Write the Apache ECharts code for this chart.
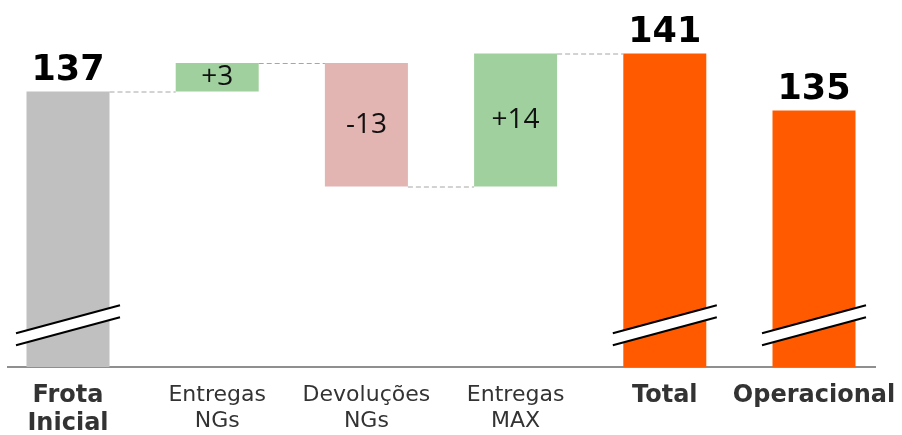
<!DOCTYPE html>
<html>
<head>
<meta charset="utf-8">
<script src="https://cdn.jsdelivr.net/npm/echarts@6/dist/echarts.min.js"></script>
<style>html,body{margin:0;padding:0;background:#fff}#c{width:902px;height:435px}</style>
</head>
<body>
<div id="c"></div>
<script>
const categories = ['Frota\nInicial', 'Entregas\nNGs', 'Devoluções\nNGs', 'Entregas\nMAX', 'Total', 'Operacional'];
const kinds = ['total', 'delta', 'delta', 'delta', 'total', 'total'];
const values = [137, 3, -13, 14, 141, 135];
const boldCategory = [true, false, false, false, true, true];
const barColors = ['#c0c0c0', '#9fd09e', '#e2b4b2', '#9fd09e', '#ff5a00', '#ff5a00'];
const brokenBars = [0, 4, 5];
const breakValue = 112.4;

const AXIS_MIN = 108, AXIS_MAX = 146, BAR_W = 83;

// build waterfall pieces
let run = 0;
const baseData = [], visData = [], labelTexts = [], levels = [];
values.forEach((v, i) => {
  if (kinds[i] === 'total') {
    baseData.push('-');
    visData.push(v);
    labelTexts.push(String(v));
    run = v;
  } else {
    const lo = Math.min(run, run + v);
    baseData.push(lo);
    visData.push(Math.abs(v));
    labelTexts.push((v > 0 ? '+' : '') + v);
    run = run + v;
  }
  levels.push(run);
});
const connectorData = [];
for (let i = 0; i < 4; i++) connectorData.push([i, levels[i]]);

const chart = echarts.init(document.getElementById('c'));
chart.setOption({
  animation: false,
  backgroundColor: '#fff',
  grid: { left: 68, right: 88, top: 6, bottom: 68, containLabel: false, outerBoundsMode: 'none' },
  xAxis: {
    type: 'category',
    boundaryGap: false,
    data: categories.map((c, i) => ({
      value: c,
      textStyle: boldCategory[i]
        ? { fontWeight: 'bold', fontSize: 24, color: '#333', fontFamily: 'DejaVu Sans', lineHeight: 28 }
        : { fontWeight: 'normal', fontSize: 22, color: '#333', fontFamily: 'DejaVu Sans', lineHeight: 26 }
    })),
    axisLine: { show: false },
    axisTick: { show: false },
    axisLabel: { interval: 0, margin: 15 }
  },
  yAxis: { type: 'value', min: AXIS_MIN, max: AXIS_MAX, show: false, splitLine: { show: false } },
  graphic: [{
    type: 'line', shape: { x1: 7, y1: 367, x2: 876, y2: 367 },
    style: { stroke: '#8f8f8f', lineWidth: 2 }, z: 1
  }],
  series: [
    {
      type: 'bar', stack: 'w', barWidth: BAR_W, data: baseData,
      itemStyle: { color: 'rgba(0,0,0,0)' }, silent: true
    },
    {
      type: 'bar', stack: 'w', barWidth: BAR_W,
      data: visData.map((v, i) => ({
        value: v,
        itemStyle: { color: barColors[i] },
        label: kinds[i] === 'total'
          ? { show: true, position: 'top', distance: 3, formatter: labelTexts[i], fontSize: 35, fontWeight: 'bold', fontFamily: 'DejaVu Sans', color: '#000' }
          : { show: true, position: 'inside', formatter: labelTexts[i], fontSize: 28, fontFamily: 'Open Sans', color: '#111' }
      }))
    },
    {
      type: 'custom', data: connectorData, z: 3,
      renderItem: function (params, api) {
        const p = api.coord([api.value(0), api.value(1)]);
        const q = api.coord([api.value(0) + 1, api.value(1)]);
        return {
          type: 'line',
          shape: { x1: p[0] + BAR_W / 2, y1: p[1] + 0.5, x2: q[0] - BAR_W / 2, y2: p[1] + 0.5 },
          style: { stroke: '#a6a6a6', lineWidth: 1, lineDash: [5, 3] }
        };
      }
    },
    {
      type: 'custom', data: brokenBars.map(i => [i, breakValue]), z: 5,
      renderItem: function (params, api) {
        const p = api.coord([api.value(0), api.value(1)]);
        const hw = 52, rise = 14, gap = 6;
        return {
          type: 'group',
          children: [
            { type: 'polygon', shape: { points: [[p[0] - hw, p[1] + rise - gap], [p[0] + hw, p[1] - rise - gap], [p[0] + hw, p[1] - rise + gap], [p[0] - hw, p[1] + rise + gap]] }, style: { fill: '#fff' } },
            { type: 'line', shape: { x1: p[0] - hw, y1: p[1] + rise - gap, x2: p[0] + hw, y2: p[1] - rise - gap }, style: { stroke: '#000', lineWidth: 2 } },
            { type: 'line', shape: { x1: p[0] - hw, y1: p[1] + rise + gap, x2: p[0] + hw, y2: p[1] - rise + gap }, style: { stroke: '#000', lineWidth: 2 } }
          ]
        };
      }
    }
  ]
});
</script>
</body>
</html>
